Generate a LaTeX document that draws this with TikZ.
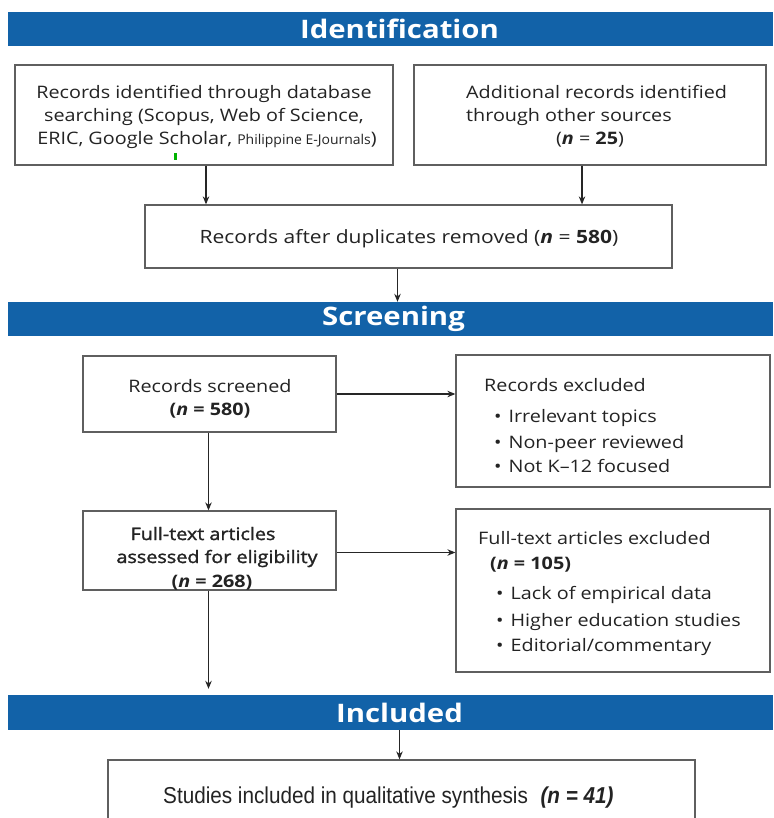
\documentclass[tikz,border=0pt]{standalone}
\usepackage{fontspec}
\setmainfont{Open Sans}[FakeStretch=1.15]
\newfontfamily\semib{Open Sans}[FakeStretch=1.15, FakeBold=1.6]
\newfontfamily\narrowfont{Liberation Sans}
\usetikzlibrary{arrows.meta,calc}
\definecolor{barblue}{RGB}{18,98,168}
\definecolor{boxline}{RGB}{95,95,95}
\definecolor{txt}{RGB}{35,35,35}
\begin{document}
\begin{tikzpicture}[x=1pt,y=-1pt,
 bar/.style={fill=barblue, draw=none, minimum width=765pt, minimum height=34pt, inner sep=0pt, text=white, font=\fontsize{25.5}{28}\selectfont\bfseries},
 box/.style={draw=boxline, line width=1.3pt, inner sep=0pt, fill=white},
 lbl/.style={text=txt, font=\fontsize{17.2}{20}\selectfont, inner sep=0pt},
 blbl/.style={text=txt, font=\fontsize{17.2}{20}\selectfont, inner sep=0pt, anchor=base west},
 arr/.style={draw=black!85, line width=1.1pt, -{Stealth[length=8pt,width=6.5pt]}}]
\clip (0,0) rectangle (773,818);
\fill[white] (0,0) rectangle (773,818);

% bars
\node[bar] (hid) at (390.5,29) {\hspace*{18pt}Identification};
\node[bar] (hsc) at (390.5,319) {\hspace*{6pt}Screening};
\node[bar, minimum height=35pt] (hin) at (390.5,712.5) {\hspace*{18pt}Included};

% boxes
\node[box, minimum width=378pt, minimum height=100pt] (b1) at (204,115) {};
\node[box, minimum width=352pt, minimum height=100pt] (b2) at (590,115) {};
\node[box, minimum width=527pt, minimum height=63pt] (b3) at (408.5,236.5) {};
\node[box, minimum width=253pt, minimum height=76pt] (b4) at (209.5,394) {};
\node[box, minimum width=314pt, minimum height=132pt] (e1) at (613,421) {};
\node[box, minimum width=253pt, minimum height=79pt] (b5) at (209.5,550.5) {};
\node[box, minimum width=314pt, minimum height=163pt] (e2) at (613,590.5) {};
\node[box, minimum width=587pt, minimum height=80pt] (b6) at (401.5,800) {};

% box 1 text
\node[lbl, anchor=base] (t1a) at (204,99) {Records identified through database};
\node[lbl, anchor=base] (t1b) at (204,122) {searching (Scopus, Web of Science,};
\node[lbl, anchor=base] (t1c) at (207,145) {ERIC, Google Scholar, {\fontsize{13.5}{15}\selectfont\scalebox{0.9}[1]{Philippine E-Journals}})};
\fill[green!70!black] (174,153) rectangle (177,160);

% box 2 text
\node[lbl, anchor=base west] (t2a) at (466,99) {Additional records identified};
\node[lbl, anchor=base west] (t2b) at (466,122) {through other sources};
\node[lbl, anchor=base] (t2c) at (590,145) {(\textbf{\textit{n}} = \textbf{25})};

% box 3 text
\node[lbl, anchor=base, font=\fontsize{18.3}{20}\selectfont] (t3) at (409,243) {Records after duplicates removed (\textbf{\textit{n}} = \textbf{580})};

% box 4 text
\node[lbl, anchor=base] (t4a) at (210,392) {Records screened};
\node[lbl, anchor=base] (t4b) at (210,415) {\bfseries(\textit{n} = 580)};

% exclusion 1
\node[lbl, anchor=base west] (e1h) at (484,391) {Records excluded};
\node[blbl] (e1a) at (494,422) {•\hspace{7pt}Irrelevant topics};
\node[blbl] (e1b) at (494,448) {•\hspace{7pt}Non-peer reviewed};
\node[blbl] (e1c) at (494,472) {•\hspace{7pt}Not K–12 focused};

% box 5 text
\node[lbl, anchor=base] (t5a) at (203,540) {\semib Full-text articles};
\node[lbl, anchor=base] (t5b) at (217,563) {\semib assessed for eligibility};
\node[lbl, anchor=base] (t5c) at (212,587) {\bfseries(\textit{n} = 268)};

% exclusion 2
\node[lbl, anchor=base west] (e2h) at (478,544) {Full-text articles excluded};
\node[lbl, anchor=base west] (e2n) at (490,569) {\bfseries(\textit{n} = 105)};
\node[blbl] (e2a) at (496,599) {•\hspace{7pt}Lack of empirical data};
\node[blbl] (e2b) at (496,626) {•\hspace{7pt}Higher education studies};
\node[blbl] (e2c) at (496,651) {•\hspace{7pt}Editorial/commentary};

% box 6 text
\node[text=txt, inner sep=0pt, anchor=base west] (t6) at (163,803) {\narrowfont\fontsize{23}{25}\selectfont\scalebox{0.9}[1]{Studies included in qualitative synthesis\hspace{14pt}\textbf{\textit{(n = 41)}}}};

% connectors
\draw[arr] ([xshift=2pt]b1.south) -- ([xshift=2pt]b1.south |- b3.north);
\draw[arr] ([xshift=-8pt]b2.south) -- ([xshift=-8pt]b2.south |- b3.north);
\draw[arr] ([xshift=-11pt]b3.south) -- ([xshift=-11pt]b3.south |- hsc.north);
\draw[arr] ([xshift=-1pt]b4.south) -- ([xshift=-1pt]b4.south |- b5.north);
\draw[arr] (b4.east) -- (b4.east -| e1.west);
\draw[arr] ([yshift=-2pt]b5.east) -- ([yshift=-2pt]b5.east -| e2.west);
\draw[arr, shorten >=6pt] ([xshift=-1pt]b5.south) -- ([xshift=-1pt]b5.south |- hin.north);
\draw[arr] ([xshift=9pt]hin.south) -- ([xshift=9pt]hin.south |- b6.north);
\end{tikzpicture}
\end{document}
